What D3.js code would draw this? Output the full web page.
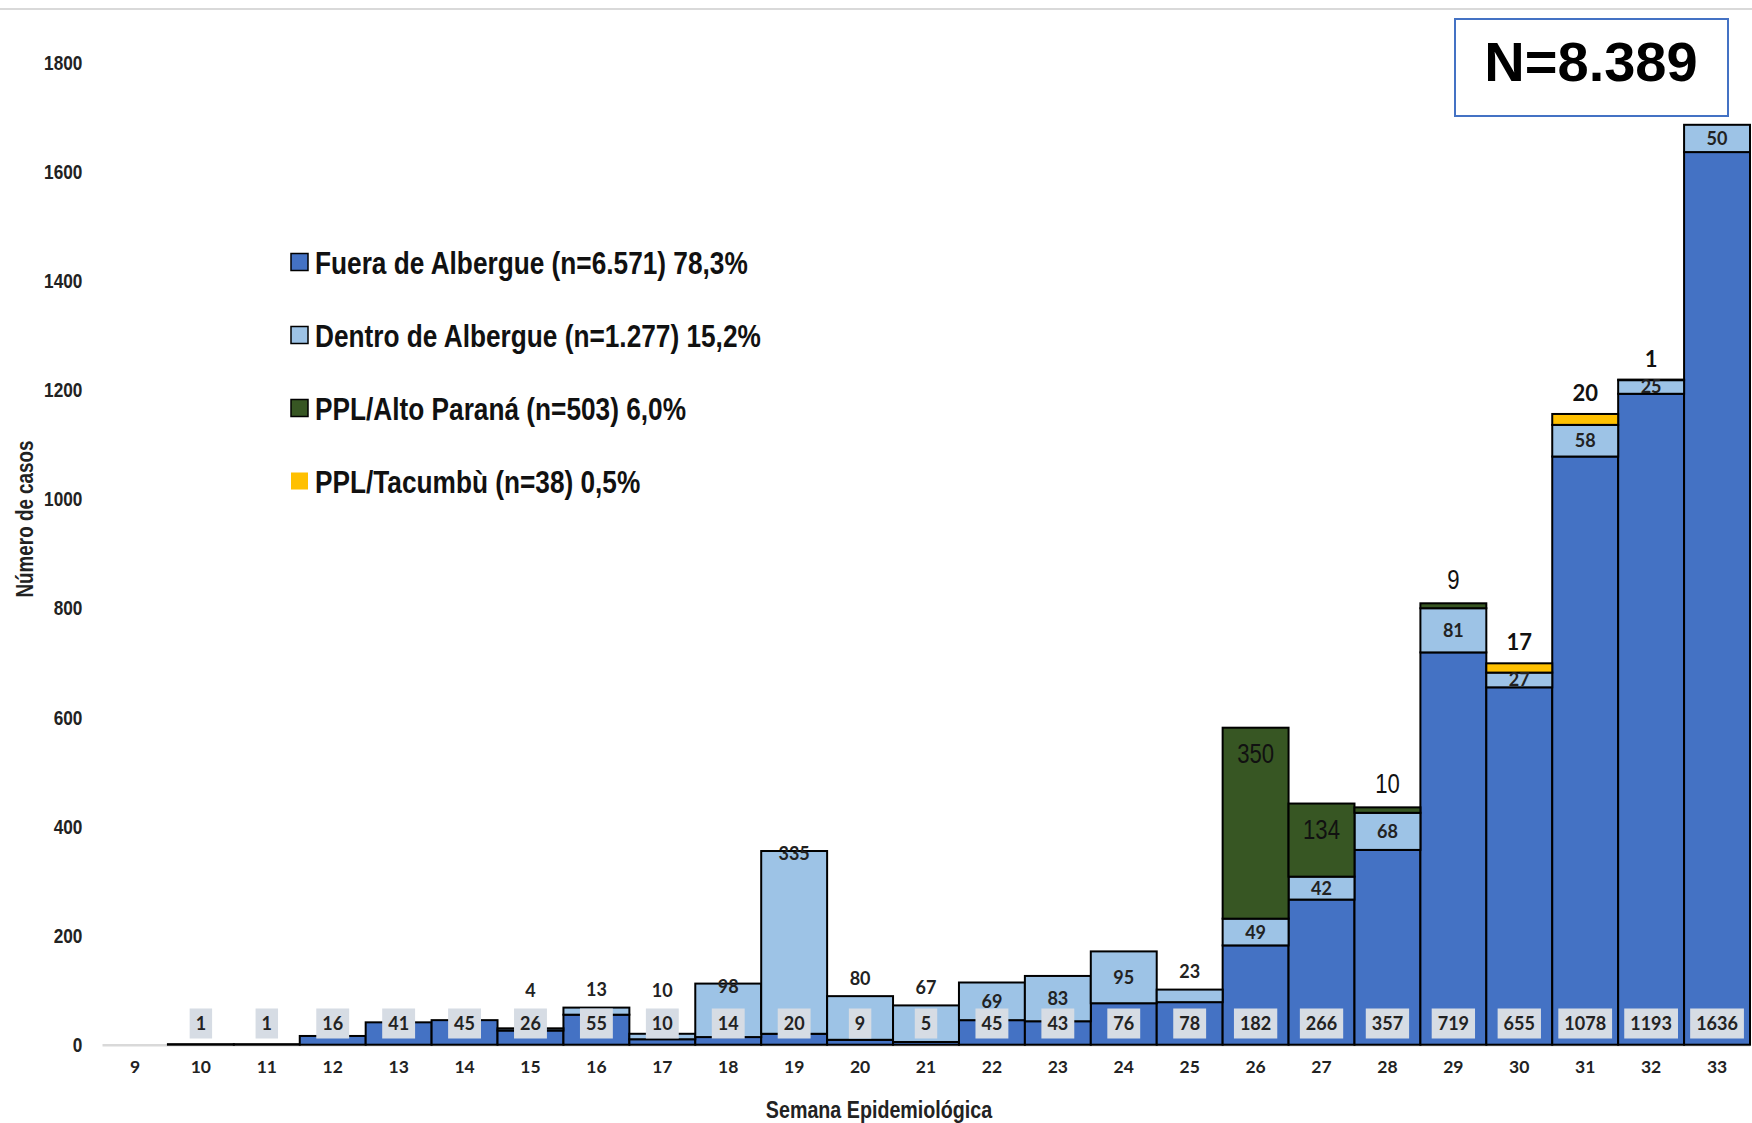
<!DOCTYPE html>
<html>
<head>
<meta charset="utf-8">
<script src="https://cdn.jsdelivr.net/npm/d3@7"></script>
<style>
  body { margin: 0; background: #fff; }
  svg { display: block; }
</style>
</head>
<body>
<script>
	'use strict';

	// --- data ---
	var weeks = ['9','10','11','12','13','14','15','16','17','18','19','20','21','22','23','24','25','26','27','28','29','30','31','32','33'];
	var fueraAlbergue  = [0,1,1,16,41,45,26,55,10,14,20,9,5,45,43,76,78,182,266,357,719,655,1078,1193,1636];
	var dentroAlbergue = [0,0,0,0,0,0,4,13,10,98,335,80,67,69,83,95,23,49,42,68,81,27,58,25,50];
	var pplAltoParana  = [0,0,0,0,0,0,0,0,0,0,0,0,0,0,0,0,0,350,134,10,9,0,0,0,0];
	var pplTacumbu     = [0,0,0,0,0,0,0,0,0,0,0,0,0,0,0,0,0,0,0,0,0,17,20,1,0];
	var seriesKeys  = ['fuera', 'dentro', 'altoParana', 'tacumbu'];
	var seriesNames = [
		'Fuera de Albergue (n=6.571) 78,3%',
		'Dentro de Albergue (n=1.277) 15,2%',
		'PPL/Alto Paraná (n=503) 6,0%',
		'PPL/Tacumbù (n=38) 0,5%'
	];
	var yTicks = [0, 200, 400, 600, 800, 1000, 1200, 1400, 1600, 1800];
	var totalLabel = 'N=8.389';

	var COLORS = { fuera: '#4472C4', dentro: '#9DC3E6', altoParana: '#375623', tacumbu: '#FFC000' };
	var SANS = "'Liberation Sans', Arial, sans-serif";
	var CALIBRI = "Lato, 'Open Sans', sans-serif";
	var NARROW_SCALE = 0.82; // no Arial Narrow here: squeeze Liberation Sans
	var W = 1752, H = 1123;

	var rows = weeks.map(function (w, i) {
		return { week: w, fuera: fueraAlbergue[i], dentro: dentroAlbergue[i],
			altoParana: pplAltoParana[i], tacumbu: pplTacumbu[i] };
	});

	var svg = d3.select('body').append('svg')
		.attr('width', W)
		.attr('height', H);

	var x = d3.scaleBand().domain(weeks).range([102, 1750]).padding(0);
	var y = d3.scaleLinear().domain([0, 1800]).range([1044.7, 62.6]);

	function narrowText(parent, px, py, str, size, weight, anchor) {
		return parent.append('g')
			.attr('transform', 'translate(' + px + ',' + py + ') scale(' + NARROW_SCALE + ',1)')
			.append('text')
			.attr('dy', '0.36em')
			.attr('text-anchor', anchor || 'middle')
			.attr('font-family', SANS)
			.attr('font-weight', weight || 400)
			.attr('font-size', size)
			.attr('fill', '#111')
			.text(str);
	}

	// thin rule on top of the picture
	svg.append('line')
		.attr('x1', 0).attr('x2', W)
		.attr('y1', 9).attr('y2', 9)
		.attr('stroke', '#d9d9d9').attr('stroke-width', 2);

	// x axis
	var xAxis = svg.append('g')
		.attr('transform', 'translate(0,' + y(0) + ')')
		.call(d3.axisBottom(x).tickSize(0).tickPadding(16));
	xAxis.select('.domain').attr('stroke', '#d9d9d9').attr('stroke-width', 2.5);
	xAxis.selectAll('text')
		.attr('font-family', CALIBRI).attr('font-weight', 700)
		.attr('font-size', 17.5).attr('fill', '#222');

	// y axis
	var yAxis = svg.append('g')
		.attr('transform', 'translate(84,0)')
		.call(d3.axisLeft(y).tickValues(yTicks).tickFormat(d3.format('d')).tickSize(0).tickPadding(2));
	yAxis.select('.domain').remove();
	yAxis.selectAll('text')
		.attr('transform', 'scale(' + NARROW_SCALE + ',1)')
		.attr('font-family', SANS).attr('font-weight', 700)
		.attr('font-size', 21).attr('fill', '#222');

	// stacked bars
	var stack = d3.stack().keys(seriesKeys)(rows);

	svg.append('g').selectAll('g')
		.data(stack)
		.join('g')
		.attr('fill', function (d) { return COLORS[d.key]; })
		.selectAll('rect')
		.data(function (d) { return d.filter(function (p) { return p[1] - p[0] > 0; }); })
		.join('rect')
		.attr('x', function (p) { return x(p.data.week); })
		.attr('width', x.bandwidth())
		.attr('y', function (p) { return y(p[1]); })
		.attr('height', function (p) { return y(p[0]) - y(p[1]); })
		.attr('stroke', '#000')
		.attr('stroke-width', 2);

	function total(r) { return r.fuera + r.dentro + r.altoParana + r.tacumbu; }
	function cx(r) { return x(r.week) + x.bandwidth() / 2; }

	var labels = svg.append('g').attr('text-anchor', 'middle');

	// Fuera de Albergue: grey boxes near the base
	var boxY = 1023.5, boxH = 30;
	var boxTop = boxY - boxH / 2;
	rows.forEach(function (r) {
		if (r.fuera <= 0) return;
		var g = labels.append('g');
		var t = g.append('text')
			.attr('x', cx(r)).attr('y', boxY).attr('dy', '0.36em')
			.attr('font-family', CALIBRI).attr('font-weight', 700).attr('font-size', 18)
			.attr('fill', '#222')
			.text(r.fuera);
		var tw = t.node().getComputedTextLength();
		g.insert('rect', 'text')
			.attr('x', cx(r) - tw / 2 - 6).attr('width', tw + 12)
			.attr('y', boxTop).attr('height', boxH)
			.attr('fill', '#D6DCE4');
	});

	// Dentro de Albergue
	rows.forEach(function (r) {
		if (r.dentro <= 0) return;
		var y0 = y(r.fuera), y1 = y(r.fuera + r.dentro);
		var h = y0 - y1;
		var isTop = r.altoParana + r.tacumbu === 0;
		var ly = (y0 + y1) / 2;
		if (isTop && h < 20) ly = Math.min(y1 - 18, boxTop - 18);
		else if (r.fuera < 25 && h > 50) ly = y1 + 3;
		else if (r.fuera < 25) ly = Math.min(y1 - 18, boxTop - 18);
		labels.append('text')
			.attr('x', cx(r)).attr('y', ly).attr('dy', '0.36em')
			.attr('font-family', CALIBRI).attr('font-weight', 700).attr('font-size', 18)
			.attr('fill', '#222')
			.text(r.dentro);
	});

	// PPL/Alto Paraná
	rows.forEach(function (r) {
		if (r.altoParana <= 0) return;
		var y0 = y(r.fuera + r.dentro), y1 = y(total(r));
		var ly = (y0 - y1 > 40) ? y1 + 26 : y1 - 24;
		narrowText(labels, cx(r), ly, r.altoParana, 27, 400);
	});

	// PPL/Tacumbú
	rows.forEach(function (r) {
		if (r.tacumbu <= 0) return;
		labels.append('text')
			.attr('x', cx(r)).attr('y', y(total(r)) - 21).attr('dy', '0.36em')
			.attr('font-family', CALIBRI).attr('font-weight', 700).attr('font-size', 22)
			.attr('fill', '#111')
			.text(r.tacumbu);
	});

	// axis titles
	svg.append('g')
		.attr('transform', 'translate(25,519) rotate(-90) scale(' + NARROW_SCALE + ',1)')
		.append('text')
		.attr('dy', '0.36em')
		.attr('text-anchor', 'middle')
		.attr('font-family', SANS).attr('font-weight', 700).attr('font-size', 23)
		.attr('fill', '#222')
		.text('Número de casos');

	narrowText(svg, 879, 1109, 'Semana Epidemiológica', 24, 700).attr('fill', '#222');

	// legend
	var legend = svg.append('g').attr('transform', 'translate(291,262)');
	var item = legend.selectAll('g')
		.data(seriesKeys)
		.join('g')
		.attr('transform', function (d, i) { return 'translate(0,' + (i * 73) + ')'; });
	item.append('rect')
		.attr('x', 0).attr('y', -8.5).attr('width', 17).attr('height', 17)
		.attr('fill', function (d) { return COLORS[d]; })
		.attr('stroke', function (d) { return d === 'tacumbu' ? 'none' : '#000'; })
		.attr('stroke-width', 1.5);
	item.each(function (d, i) {
		narrowText(d3.select(this), 24, 0, seriesNames[i], 32, 700, 'start');
	});

	// N box
	svg.append('rect')
		.attr('x', 1455).attr('y', 19).attr('width', 273).attr('height', 97)
		.attr('fill', '#fff').attr('stroke', '#4472C4').attr('stroke-width', 2);
	svg.append('text')
		.attr('x', 1591).attr('y', 61).attr('dy', '0.36em')
		.attr('text-anchor', 'middle')
		.attr('font-family', SANS).attr('font-weight', 700).attr('font-size', 56)
		.attr('fill', '#000')
		.text(totalLabel);
</script>
</body>
</html>
